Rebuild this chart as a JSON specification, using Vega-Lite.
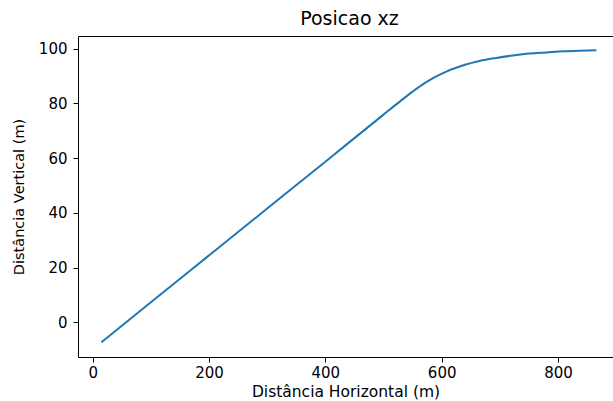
{
  "$schema": "https://vega.github.io/schema/vega-lite/v6.json",
  "width": 535,
  "height": 321,
  "autosize": {"type": "none"},
  "padding": {"left": 78, "top": 36, "right": 0, "bottom": 44},
  "background": "white",
  "config": {
    "font": "DejaVu Sans",
    "view": {"stroke": "black", "strokeWidth": 1},
    "axis": {
      "grid": false,
      "domain": false,
      "tickColor": "black",
      "tickSize": 5,
      "tickWidth": 1,
      "labelColor": "black",
      "labelFont": "DejaVu Sans",
      "labelFontSize": 15,
      "titleFont": "DejaVu Sans",
      "titleFontSize": 15,
      "titleFontWeight": "normal",
      "titleColor": "black",
      "labelPadding": 3
    }
  },
  "title": {
    "text": "Posicao xz",
    "font": "DejaVu Sans",
    "fontSize": 19,
    "fontWeight": "normal",
    "color": "black",
    "anchor": "middle",
    "dx": 4,
    "offset": 7
  },
  "data": {
    "values": [
      {"x": 15, "y": -7.2},
      {"x": 100, "y": 7.4},
      {"x": 200, "y": 24.5},
      {"x": 300, "y": 41.6},
      {"x": 400, "y": 58.7},
      {"x": 500, "y": 75.9},
      {"x": 530, "y": 81.0},
      {"x": 550, "y": 84.3},
      {"x": 565, "y": 86.6},
      {"x": 580, "y": 88.6},
      {"x": 595, "y": 90.3},
      {"x": 610, "y": 91.8},
      {"x": 625, "y": 93.0},
      {"x": 640, "y": 94.1},
      {"x": 665, "y": 95.5},
      {"x": 694, "y": 96.6},
      {"x": 723, "y": 97.5},
      {"x": 751, "y": 98.2},
      {"x": 780, "y": 98.6},
      {"x": 809, "y": 99.0},
      {"x": 837, "y": 99.2},
      {"x": 866, "y": 99.4}
    ]
  },
  "mark": {"type": "line", "color": "#1f77b4", "strokeWidth": 2, "interpolate": "monotone", "clip": true},
  "encoding": {
    "x": {
      "field": "x",
      "type": "quantitative",
      "scale": {"domain": [-25.3, 894.6], "nice": false, "zero": false},
      "axis": {"values": [0, 200, 400, 600, 800], "title": "Distância Horizontal (m)", "titlePadding": 4, "titleFontSize": 15.5}
    },
    "y": {
      "field": "y",
      "type": "quantitative",
      "scale": {"domain": [-12.6, 104.6], "nice": false, "zero": false},
      "axis": {"values": [0, 20, 40, 60, 80, 100], "title": "Distância Vertical (m)", "titlePadding": 12, "labelPadding": 6, "titleFontSize": 14.5}
    }
  }
}
